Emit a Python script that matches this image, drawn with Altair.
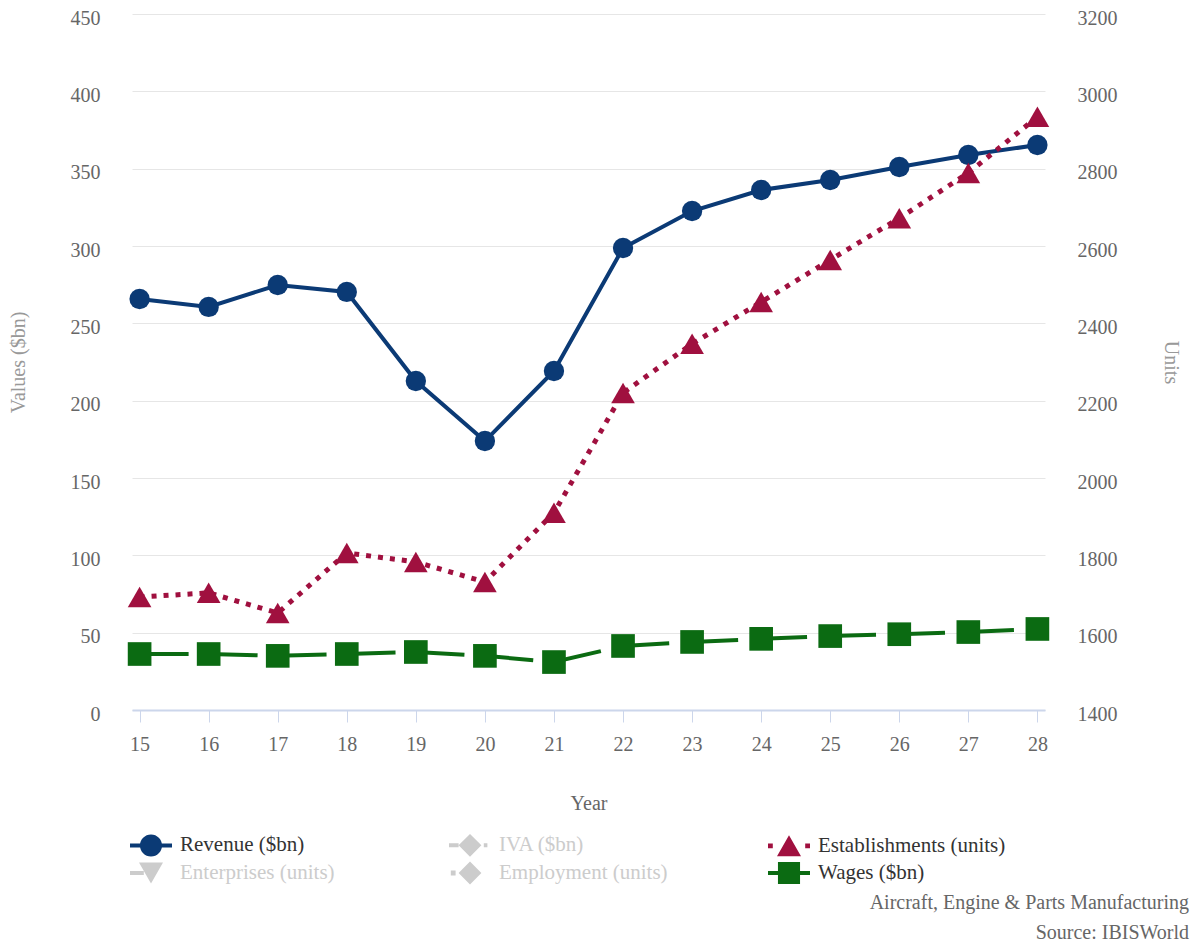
import altair as alt
import pandas as pd

years = [15, 16, 17, 18, 19, 20, 21, 22, 23, 24, 25, 26, 27, 28]
revenue = [265.7, 260.6, 274.8, 270.3, 212.7, 173.9, 219.2, 298.7, 322.6, 336.2, 342.7, 351.1, 358.8, 365.3]
establishments = [1692, 1703, 1651, 1806, 1783, 1731, 1910, 2220, 2347, 2455, 2564, 2672, 2789, 2934]
wages = [36.2, 36.2, 35.0, 36.2, 37.5, 35.0, 31.0, 41.4, 44.0, 46.0, 47.8, 49.0, 50.4, 52.4]

left_ticks = [0, 50, 100, 150, 200, 250, 300, 350, 400, 450]
right_ticks = [1400, 1600, 1800, 2000, 2200, 2400, 2600, 2800, 3000, 3200]

legend_names = ["Revenue ($bn)", "IVA ($bn)", "Establishments (units)",
                "Enterprises (units)", "Employment (units)", "Wages ($bn)"]
hidden_names = ["IVA ($bn)", "Enterprises (units)", "Employment (units)"]
credits = ["Aircraft, Engine & Parts Manufacturing", "Source: IBISWorld"]

NAVY = "#0b3a75"
RED = "#a0103f"
GREEN = "#0b6b12"
GREY = "#cccccc"
legend_colors = [NAVY, GREY, RED, GREY, GREY, GREEN]

legend_paths = [
    "M-1.75,-0.17H-0.9V0.17H-1.75Z M0.9,-0.17H1.75V0.17H0.9Z "
    "M0.92,0A0.92,0.92 0 1 1 -0.92,0A0.92,0.92 0 1 1 0.92,0Z",
    "M-1.75,-0.17H-0.95V0.17H-1.75Z M0,-0.95L0.95,0L0,0.95L-0.95,0Z "
    "M1.15,-0.17H1.45V0.17H1.15Z",
    "M-1.75,-0.2H-1.35V0.2H-1.75Z M0,-0.87L1.0,0.87L-1.0,0.87Z M1.35,-0.2H1.75V0.2H1.35Z",
    "M-1.75,-0.17H-0.6V0.17H-1.75Z M-1.0,-0.87L1.0,-0.87L0,0.87Z",
    "M-1.6,-0.2H-1.2V0.2H-1.6Z M0,-0.95L0.95,0L0,0.95L-0.95,0Z",
    "M-1.75,-0.17H-0.9V0.17H-1.75Z M0.9,-0.17H1.75V0.17H0.9Z M-0.92,-0.92H0.92V0.92H-0.92Z",
]

df = pd.DataFrame({"year": years, "revenue": revenue,
                   "establishments": establishments, "wages": wages})
legend_df = pd.DataFrame({"series": legend_names})
credits_df = pd.DataFrame({"text": credits, "row": [0, 1]})

SERIF = "Liberation Serif"
xscale = alt.Scale(domain=[14.89, 28.11], nice=False, zero=False)
x_enc = alt.X("year:Q", scale=xscale, axis=alt.Axis(values=years, title="Year"))

yl_scale = alt.Scale(domain=[0, 450], nice=False, zero=False)
yl_axis = alt.Axis(values=left_ticks, title="Values ($bn)", grid=True, gridColor="#e6e6e6",
                   ticks=False, domain=False, labelPadding=32, labelOffset=4,
                   titleX=-114, titleBaseline="middle", titleColor="#999999")
yr_scale = alt.Scale(domain=[1400, 3200], nice=False, zero=False)
yr_axis = alt.Axis(values=right_ticks, title="Units", orient="right", grid=False, format="d",
                   ticks=False, domain=False, labelPadding=32, labelOffset=4,
                   titleX=125, titleBaseline="middle", titleColor="#999999")

base = alt.Chart(df)

rev_line = base.mark_line(color=NAVY, strokeWidth=4).encode(
    x=x_enc, y=alt.Y("revenue:Q", scale=yl_scale, axis=yl_axis))
rev_pts = base.mark_point(filled=True, shape="circle", size=415, color=NAVY, opacity=1).encode(
    x=x_enc, y=alt.Y("revenue:Q", scale=yl_scale, axis=None))
wage_line = base.mark_line(color=GREEN, strokeWidth=4, strokeDash=[49, 20]).encode(
    x=x_enc, y=alt.Y("wages:Q", scale=yl_scale, axis=None))
wage_pts = base.mark_point(filled=True, shape="square", size=560, color=GREEN, opacity=1).encode(
    x=x_enc, y=alt.Y("wages:Q", scale=yl_scale, axis=None))
est_line = base.mark_line(color=RED, strokeWidth=5, strokeDash=[5, 7]).encode(
    x=x_enc, y=alt.Y("establishments:Q", scale=yr_scale, axis=yr_axis))
est_pts = base.mark_point(filled=True, shape="triangle-up", size=560, color=RED, opacity=1).encode(
    x=x_enc, y=alt.Y("establishments:Q", scale=yr_scale, axis=None))

label_expr = "indexof(" + str(hidden_names) + ", datum.value) >= 0 ? '#cccccc' : '#333333'"
leg = alt.Legend(title=None, orient="none", legendX=7, legendY=819, columns=3,
                 direction="horizontal", gridAlign="all", columnPadding=81, rowPadding=4,
                 symbolSize=576, symbolStrokeWidth=0, symbolOpacity=1, labelOffset=17,
                 labelFont=SERIF, labelFontSize=21, labelColor=alt.ExprRef(label_expr),
                 labelLimit=400, padding=0)
legend_layer = alt.Chart(legend_df).mark_point(filled=True, opacity=1).encode(
    color=alt.Color("series:N", scale=alt.Scale(domain=legend_names, range=legend_colors), legend=leg),
    shape=alt.Shape("series:N", scale=alt.Scale(domain=legend_names, range=legend_paths), legend=leg),
).transform_filter("false")

credit_layer = alt.Chart(credits_df).mark_text(
    font=SERIF, fontSize=20, color="#666666", align="right", baseline="middle", dy=-15).encode(
    text="text:N", x=alt.value(1057), y=alt.value(904),
).transform_filter("datum.row == 0")
credit_layer2 = alt.Chart(credits_df).mark_text(
    font=SERIF, fontSize=20, color="#666666", align="right", baseline="middle", dy=15).encode(
    text="text:N", x=alt.value(1057), y=alt.value(904),
).transform_filter("datum.row == 1")

chart = alt.layer(
    rev_line, rev_pts, wage_line, wage_pts, est_line, est_pts,
    legend_layer, credit_layer, credit_layer2,
).resolve_scale(
    y="independent"
).properties(
    width=913, height=696,
    autosize=alt.AutoSizeParams(type="none"),
    padding={"left": 132, "top": 14, "right": 150, "bottom": 237},
).configure_view(fill="#f9f9f9", strokeWidth=0).configure_axis(
    labelFont=SERIF, labelFontSize=20, labelColor="#666666",
    titleFont=SERIF, titleFontSize=20, titleFontWeight="normal",
).configure_axisX(
    grid=False, tickSize=12, tickColor="#ccd6eb", domainColor="#ccd6eb", domainWidth=2,
    labelPadding=12, titleY=93, titleBaseline="middle", titleColor="#666666",
)

chart.save("out.html", embed_options={"renderer": "svg", "actions": False})
